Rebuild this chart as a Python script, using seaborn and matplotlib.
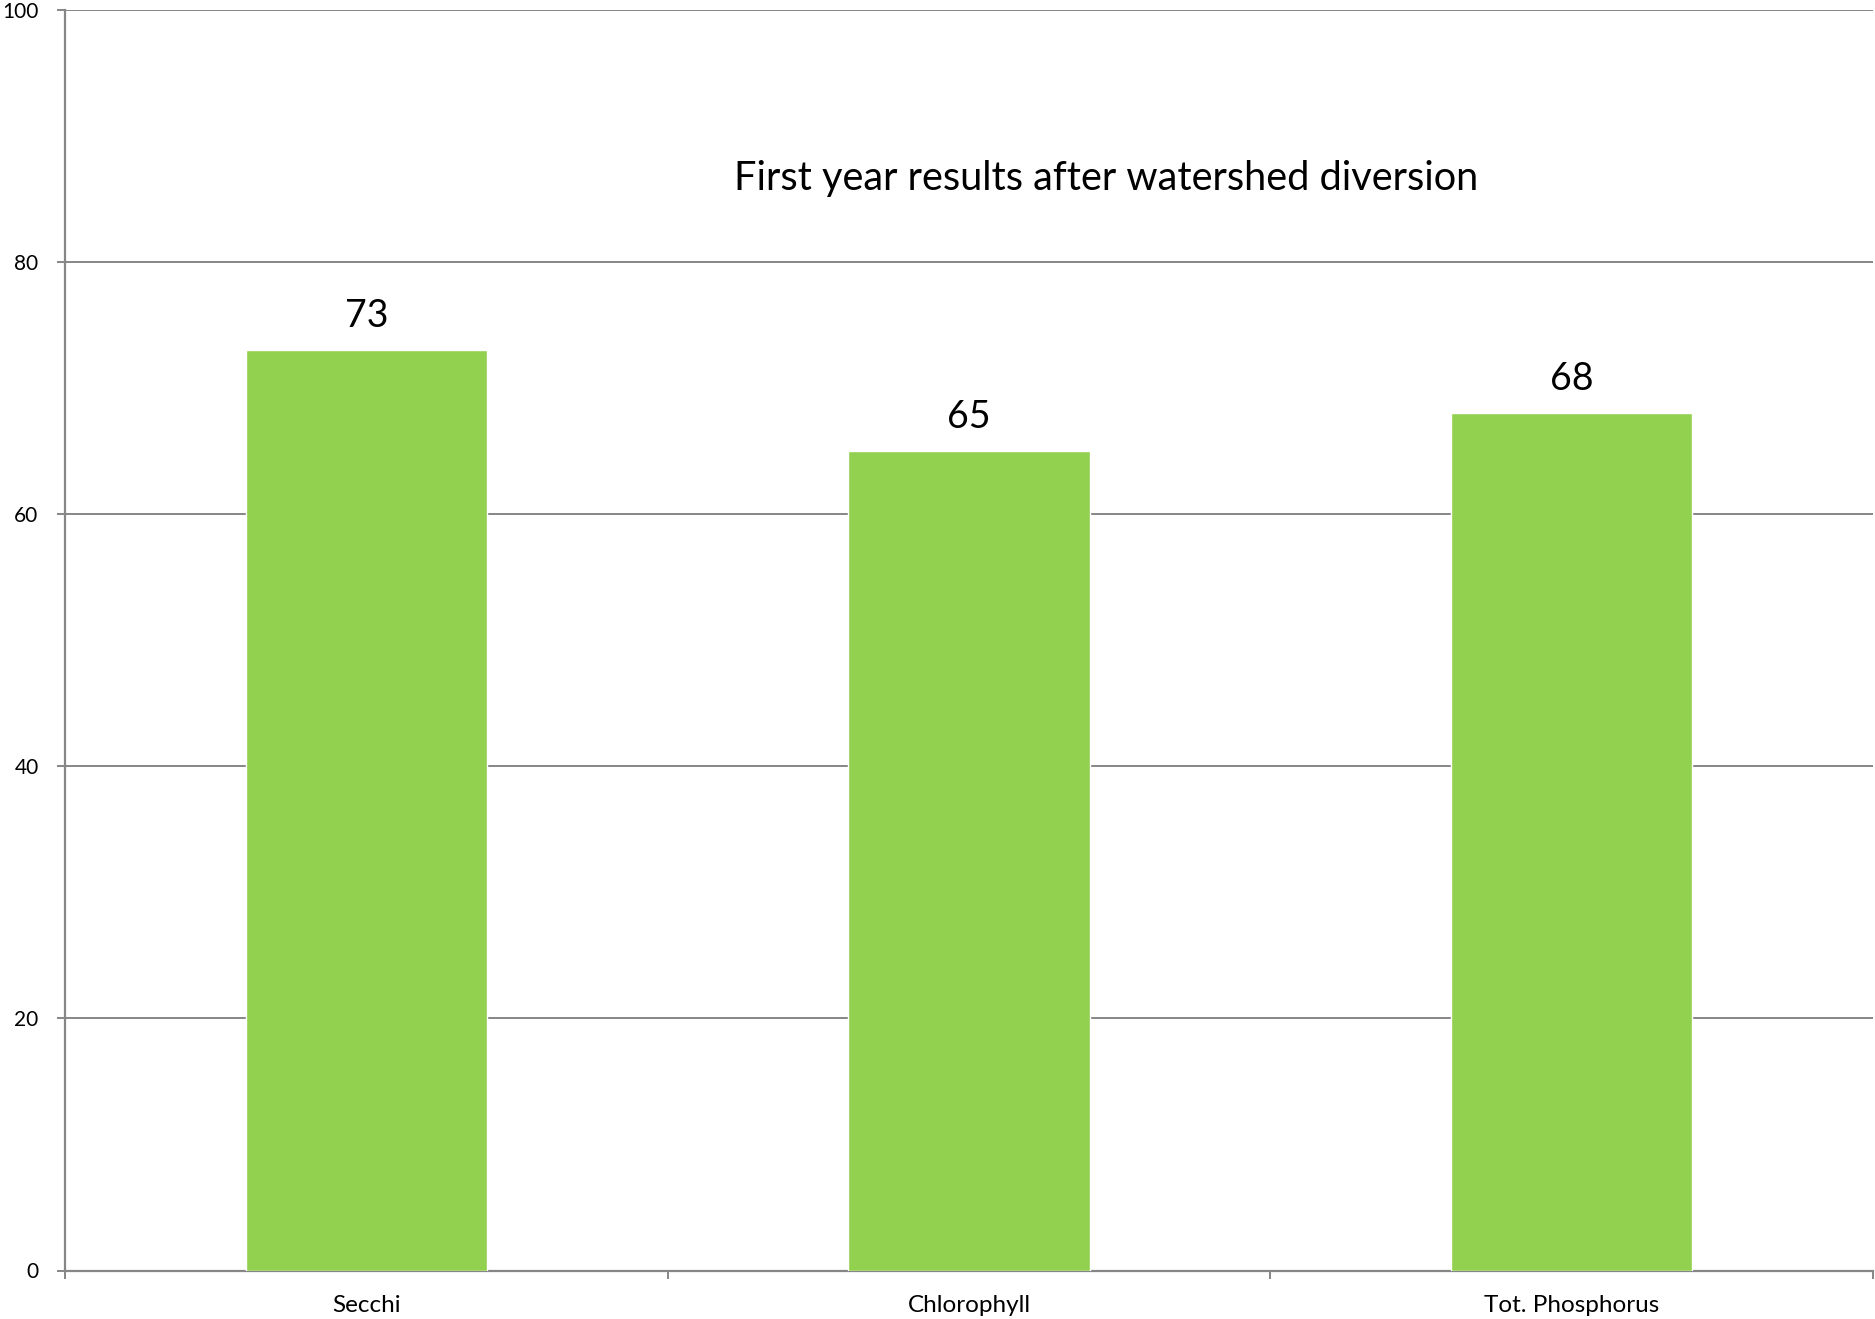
import matplotlib
matplotlib.use("Agg")
import matplotlib.pyplot as plt
import seaborn as sns
import pandas as pd

categories = ["Secchi", "Chlorophyll", "Tot. Phosphorus"]
values = [73, 65, 68]
title_text = "First year results after watershed diversion"
y_ticks = [0, 20, 40, 60, 80, 100]

sns.set_theme(style="white")
plt.rcParams['font.family'] = ['Lato', 'DejaVu Sans']

W, H, DPI = 1875, 1319, 100
fig = plt.figure(figsize=(W / DPI, H / DPI), dpi=DPI)
left, right, top, bottom = 65, 1873, 9.5, 1270.5
ax = fig.add_axes([left / W, 1 - bottom / H, (right - left) / W, (bottom - top) / H])

df = pd.DataFrame({"cat": categories, "val": values})
sns.barplot(data=df, x="cat", y="val", color="#92D050", saturation=1, width=0.4, ax=ax, zorder=3)

grid_c = "#868686"
ax.set_ylim(0, 100)
ax.set_xlim(-0.5, len(categories) - 0.5)
ax.set_yticks(y_ticks)
ax.set_yticklabels([str(t) for t in y_ticks], fontsize=15, color="black")
ax.yaxis.grid(True, color=grid_c, linewidth=1.4, zorder=0)
ax.set_axisbelow(True)
for s in ["top", "right"]:
    ax.spines[s].set_visible(False)
for s in ["left", "bottom"]:
    ax.spines[s].set_color(grid_c)
    ax.spines[s].set_linewidth(1.6)
ax.tick_params(axis="y", which="major", left=True, direction="out", length=6, width=1.4,
               color=grid_c, pad=13)
ax.set_xticks(range(len(categories)))
ax.set_xticklabels(categories, fontsize=17.5, color="black")
ax.tick_params(axis="x", which="major", bottom=False, length=0, pad=18)
ax.set_xticks([i - 0.5 for i in range(len(categories) + 1)], minor=True)
ax.tick_params(axis="x", which="minor", bottom=True, direction="out", length=6, width=1.4,
               color=grid_c)
ax.set_xlabel("")
ax.set_ylabel("")

for i, v in enumerate(values):
    ax.annotate(str(v), (i, v), xytext=(0, 11.5), textcoords="offset points",
                ha="center", va="bottom", fontsize=27, color="black")

ax.text(0.576, 0.866, title_text, transform=ax.transAxes, ha="center", va="center",
        fontsize=28.6, color="black")

fig.savefig("out.png", dpi=DPI, facecolor="white")
